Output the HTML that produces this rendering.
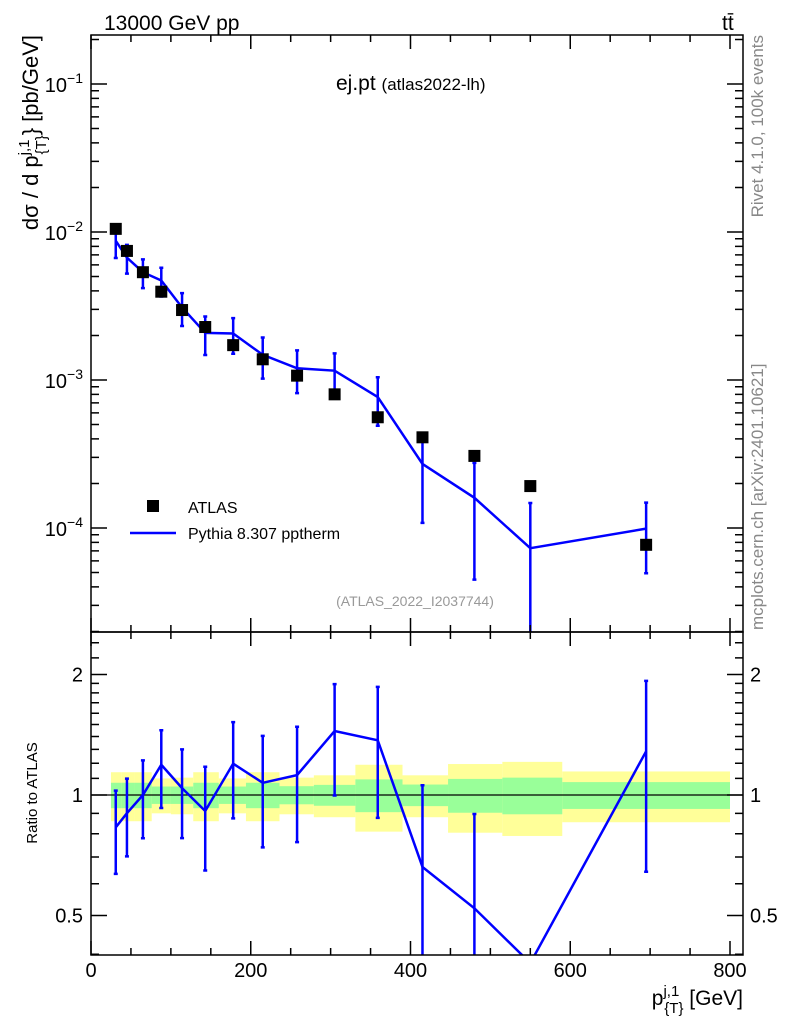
<!DOCTYPE html>
<html><head><meta charset="utf-8"><style>
html,body{margin:0;padding:0;background:#fff;overflow:hidden;width:786px;height:1024px;}
svg{display:block;font-family:"Liberation Sans",sans-serif;}
</style></head><body>
<svg id="chart" width="786" height="1024" viewBox="0 0 786 1024" xmlns="http://www.w3.org/2000/svg">
<defs>
<clipPath id="clipMain"><rect x="91" y="35" width="652" height="597"/></clipPath>
<clipPath id="clipRatio"><rect x="91" y="632" width="652" height="323"/></clipPath>
</defs>
<g id="bands" clip-path="url(#clipRatio)"></g>
<g id="marks"></g>
<g id="axes"></g>
<text x="104" y="30" font-size="21">13000 GeV pp</text>
<text x="722" y="30" font-size="21">tt<tspan dx="-10" dy="-3">̄</tspan></text>
<text x="336" y="90" font-size="21">ej.pt <tspan font-size="17">(atlas2022-lh)</tspan></text>
<text x="415" y="606" font-size="14" fill="#999" text-anchor="middle">(ATLAS_2022_I2037744)</text>
<text transform="translate(763,35) rotate(-90)" font-size="17" fill="#888" text-anchor="end">Rivet 4.1.0,  100k events</text>
<text transform="translate(763,630) rotate(-90)" font-size="17" fill="#888" text-anchor="start">mcplots.cern.ch [arXiv:2401.10621]</text>
<text transform="translate(38,35) rotate(-90)" font-size="22" text-anchor="end">dσ / d p<tspan dy="-9" font-size="15">j,1</tspan><tspan dx="-15" dy="17" font-size="15">{T}</tspan><tspan dy="-8">} [pb/GeV]</tspan></text>
<text transform="translate(37,793) rotate(-90)" font-size="15" text-anchor="middle">Ratio to ATLAS</text>
<text x="743" y="1005" font-size="21" text-anchor="end">p<tspan dy="-9" font-size="15">j,1</tspan><tspan dx="-15" dy="17" font-size="15">{T}</tspan><tspan dy="-8"> [GeV]</tspan></text>
<g>
<rect x="147" y="500" width="12" height="12" fill="#000"/>
<text x="188" y="513" font-size="16">ATLAS</text>
<line x1="130" y1="533" x2="176" y2="533" stroke="#0000ff" stroke-width="2.5"/>
<text x="188" y="539" font-size="16">Pythia 8.307 pptherm</text>
</g>
</svg>
<script>
const xCenters=[31,45,65,88,114,143,178,215,258,305,359,415,480,550,695];
const dataVals=[1.05e-2,7.45e-3,5.35e-3,3.95e-3,2.97e-3,2.28e-3,1.72e-3,1.38e-3,1.07e-3,8.0e-4,5.6e-4,4.1e-4,3.07e-4,1.92e-4,7.7e-5];
const mcVals=[8.72e-3,6.71e-3,5.35e-3,4.70e-3,3.09e-3,2.08e-3,2.06e-3,1.48e-3,1.20e-3,1.156e-3,7.67e-4,2.71e-4,1.60e-4,7.3e-5,9.9e-5];
const mcRelErr=[0.235,0.22,0.22,0.22,0.25,0.29,0.27,0.31,0.32,0.31,0.36,0.6,0.72,1.02,0.5];
const binEdges=[25,38,55,76,100,128,160,194,236,279,331,390,447,515,590,800];
const totalBand=[0.14,0.14,0.14,0.10,0.105,0.14,0.10,0.14,0.105,0.12,0.19,0.12,0.195,0.21,0.145];
const statBand=[0.073,0.073,0.073,0.05,0.05,0.073,0.05,0.073,0.052,0.06,0.094,0.062,0.097,0.105,0.077];
const xTicks=[0,200,400,600,800];
const yMainTicks=[-4,-3,-2,-1];
const yRatioTicks=[0.5,1,2];

const NS="http://www.w3.org/2000/svg";
const L=91,R=743,MT=35,MB=632,RB=955;
function X(v){return L+v*(730-91)/800;}
function YM(v){return 232-(Math.log10(v)+2)*148;}
function YR(r){return 795-Math.log2(r)*120.5;}
function mk(tag,attrs,parent){const e=document.createElementNS(NS,tag);for(const k in attrs)e.setAttribute(k,attrs[k]);parent.appendChild(e);return e;}
const bands=document.getElementById('bands'),marks=document.getElementById('marks'),axes=document.getElementById('axes');

for(let i=0;i<binEdges.length-1;i++){
  const x0=X(binEdges[i]),x1=X(binEdges[i+1]);
  const y=mk('rect',{x:x0,y:YR(1+totalBand[i]),width:x1-x0,height:YR(1-totalBand[i])-YR(1+totalBand[i]),fill:'#ffff99'},bands);
  
  
}
for(let i=0;i<binEdges.length-1;i++){
  const x0=X(binEdges[i]),x1=X(binEdges[i+1]);
  const g=mk('rect',{x:x0,y:YR(1+statBand[i]),width:x1-x0,height:YR(1-statBand[i])-YR(1+statBand[i]),fill:'#99ff99'},bands);
  
  
}
const one=mk('line',{x1:L,x2:R,y1:YR(1),y2:YR(1),stroke:'#000','stroke-width':1.3},bands);



const gm=mk('g',{'clip-path':'url(#clipMain)'},marks);
let pts=xCenters.map((x,i)=>X(x)+','+YM(mcVals[i])).join(' ');
const ml=mk('polyline',{points:pts,fill:'none',stroke:'#0000ff','stroke-width':2.5},gm);


xCenters.forEach((x,i)=>{
  const px=X(x),hi=mcVals[i]*(1+mcRelErr[i]),lo=mcVals[i]*(1-mcRelErr[i]);
  const yt=YM(hi),yb=lo>0?YM(lo):MB+5;
  const e=mk('path',{d:`M${px},${yt}V${yb}M${px-2},${yt}H${px+2}`+(lo>0?`M${px-2},${yb}H${px+2}`:''),stroke:'#0000ff','stroke-width':2.5,fill:'none'},gm);
  
  
});
xCenters.forEach((x,i)=>{
  const r=mk('rect',{x:X(x)-6,y:YM(dataVals[i])-6,width:12,height:12,fill:'#000'},gm);
  
  
});

const gr=mk('g',{'clip-path':'url(#clipRatio)'},marks);
const ratios=xCenters.map((x,i)=>mcVals[i]/dataVals[i]);
pts=xCenters.map((x,i)=>X(x)+','+YR(ratios[i])).join(' ');
const rl=mk('polyline',{points:pts,fill:'none',stroke:'#0000ff','stroke-width':2.5},gr);


xCenters.forEach((x,i)=>{
  const r=ratios[i];
  if(r<0.4||r>2.55)return;
  const px=X(x),hi=r*(1+mcRelErr[i]),lo=r*(1-mcRelErr[i]);
  const yt=YR(hi),yb=lo>0?YR(lo):RB+5;
  const e=mk('path',{d:`M${px},${yt}V${yb}M${px-2},${yt}H${px+2}`+(lo>0?`M${px-2},${yb}H${px+2}`:''),stroke:'#0000ff','stroke-width':2.5,fill:'none'},gr);
  
  
});

[[MT,MB],[MB,RB]].forEach(([t,b])=>{
  const f=mk('rect',{x:L,y:t,width:R-L,height:b-t,fill:'none',stroke:'#000','stroke-width':1.5},axes);
  
  
});
let d='';
for(let v=0;v<=800;v+=50){
  const px=X(v),len=(v%200===0)?14:7;
  d+=`M${px},${RB}v${-len}M${px},${MB}v${len}M${px},${MB}v${-len}M${px},${MT}v${len}`;
}
for(let e=-5;e<=-1;e++)for(let m=1;m<10;m++){
  const v=m*Math.pow(10,e),py=YM(v);
  if(py<MT||py>MB)continue;
  const len=m===1?16:8;
  d+=`M${L},${py}h${len}M${R},${py}h${-len}`;
}
const rm=[0.4,0.5,0.6,0.7,0.8,0.9,1,1.1,1.2,1.3,1.4,1.5,1.6,1.7,1.8,1.9,2,2.2,2.4];
rm.forEach(v=>{const py=YR(v);if(py<MB||py>RB)return;const len=(v===0.5||v===1||v===2)?16:8;d+=`M${L},${py}h${len}M${R},${py}h${-len}`;});
const tk=mk('path',{d:d,stroke:'#000','stroke-width':1.5,fill:'none'},axes);



xTicks.forEach(v=>{
  const t=mk('text',{x:X(v),y:977,'font-size':20,'text-anchor':'middle'},axes);
  t.textContent=String(v);
  
  
});
yMainTicks.forEach(e=>{
  const t=mk('text',{x:83,y:YM(Math.pow(10,e))+8,'font-size':20,'text-anchor':'end'},axes);
  t.textContent='10';
  const s=mk('tspan',{dy:-9,'font-size':14},t);
  s.textContent='−'+Math.abs(e);
  
  
});
yRatioTicks.forEach(v=>{
  [[83,'end'],[750,'start']].forEach(([x,a])=>{
    const t=mk('text',{x:x,y:YR(v)+7,'font-size':20,'text-anchor':a},axes);
    t.textContent=String(v);
    
    
  });
});
</script>
</body></html>
